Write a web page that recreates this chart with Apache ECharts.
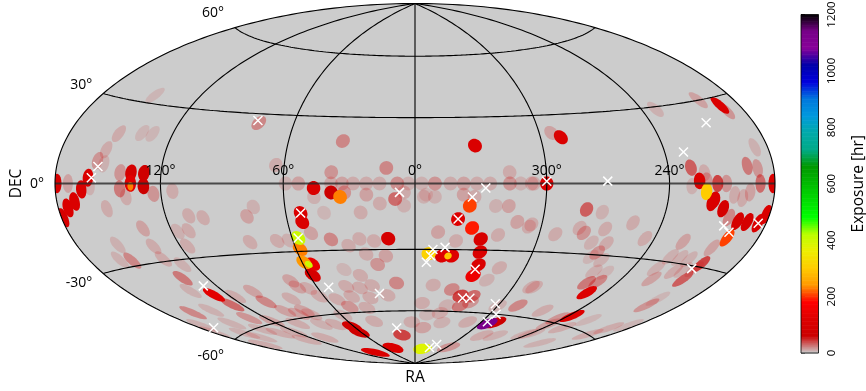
<!DOCTYPE html>
<html><head><meta charset="utf-8"><style>html,body{margin:0;background:#fff}#c{width:866px;height:391px}</style>
<script src="https://cdn.jsdelivr.net/npm/echarts@6/dist/echarts.min.js"></script></head><body><div id="c"></div>
<script>
// Sky pointings: [RA deg, DEC deg, exposure hr]
const pointings=[[147,33,8],[150,18,12],[137,19,8],[131,19,8],[153,12,12],[156,8,20],[152,7,10],[160,2,110],[179,0,100],[172,0,15],[164,-2,110],[159,-1,10],[169,-6,110],[142,4,20],[136,4,90],[129,4,70],[142,-2,30],[136,0,130],[129,-1,60],[124,-4,20],[139,-5,12],[64,8,12],[59,0,10],[53,0,15],[78,26,25],[174,-8,110],[179,-11,100],[151,-9,12],[135,-17,15],[114,-3,12],[108,-13,12],[101,-14,12],[117,-19,10],[111,-19,12],[116,-25,12],[75,-10,10],[79,-14,15],[82,-25,12],[68,-25,12],[62,-25,10],[155,-22,10],[135,-24,12],[135,-29,12],[161,-27,10],[154,-28,25],[127,-32,10],[135,-37,30],[140,-42,10],[129,-45,130],[127,-50,35],[162,-49,25],[147,-50,10],[117,-47,12],[102,-46,15],[102,-51,25],[132,-56,20],[152,-56,10],[175,-53,10],[179,-56,10],[161,-60,10],[141,-61,10],[98,-56,15],[73,-43,15],[83,-51,12],[72,-46,15],[173,-65,12],[135,-64,12],[122,-65,12],[91,-58,15],[120,-59,15],[104,-62,12],[158,-63,10],
[34,19,25],[332,17,110],[13,7,25],[38,5,20],[317,5,12],[294,22,15],[290,20,110],[38,0,12],[33,0,15],[28,0,12],[22,0,12],[16,0,12],[8,0,22],[3,0,10],[357,0,10],[351,0,20],[344,0,12],[338,0,15],[332,0,12],[326,0,12],[317,0,20],[312,0,10],[306,0,12],[300,0,110],[46,-2,110],[38,-4,60],[34,-6,230],[32,-4,20],[22,-5,15],[9,-7,35],[5,-4,12],[356,-6,10],[351,-6,10],[338,-5,15],[333,-6,12],[16,-9,12],[5,-10,10],[25,-13,12],[46,-6,10],[42,-13,8],[53,-13,110],[53,-17,110],[50,-22,15],[57,-24,400],[58,-29,230],[59,-35,240],[55,-36,140],[58,-41,90],[41,-25,25],[33,-28,12],[27,-25,12],[20,-26,12],[13,-25,90],[15,-33,15],[25,-32,12],[20,-37,20],[31,-42,12],[39,-39,8],[42,-47,12],[34,-48,12],[26,-47,12],[11,-46,25],[18,-52,12],[30,-53,12],[42,-52,12],[66,-47,12],[63,-51,12],[53,-53,12],[48,-57,20],[36,-58,12],[37,-65,12],[3,-66,12],[62,-67,80],[62,-70,70],[16,-73,50],[44,-80,110],[95,-81,110],[107,-70,12],[84,-57,15],[82,-59,12],[59,-61,10],[129,-69,12],[86,-64,10],[74,-65,12],
[355,-5,8],[335,-10,205],[340,-16,120],[349,-22,15],[333,-20,190],[323,-10,10],[317,-10,15],[312,-17,15],[306,-19,12],[320,-23,12],[328,-25,100],[327,-31,110],[326,-37,110],[327,-42,150],[346,-33,120],[341,-33,120],[353,-32,310],[340,-26,12],[349,-47,12],[337,-49,25],[330,-52,50],[322,-52,35],[327,-57,30],[321,-55,20],[314,-38,12],[318,-44,10],[355,-56,12],[350,-62,8],[340,-61,12],[335,-66,10],[352,-69,15],[337,-57,10],[300,-56,10],[286,-55,25],[289,-46,12],[287,-64,60],[293,-65,1130],[344,-81,380],[297,-79,20],[312,-65,12],[281,-71,12],[267,-70,10],[243,-67,10],
[280,-11,40],[272,-12,10],[255,-16,12],[281,-19,12],[278,-21,20],[268,-19,12],[292,-22,12],[272,-25,10],[264,-25,12],[245,-22,12],[266,-29,20],[268,-31,8],[261,-32,10],[223,-22,15],[204,-23,15],[199,-19,205],[204,-12,25],[198,-13,90],[192,-13,90],[185,-13,110],[182,-10,110],[216,-7,100],[209,-9,90],[224,-28,10],[218,-28,10],[212,-28,10],[226,-33,10],[214,-33,12],[209,-32,10],[202,-29,50],[203,-31,10],[203,-35,40],[222,-37,15],[201,-46,20],[201,-43,8],[258,-42,30],[252,-41,25],[251,-46,120],[260,-37,10],[253,-37,8],[287,-46,12],[264,-56,12],[237,-56,120],[244,-58,20],[220,-56,8],[226,-61,12],[242,-61,15],[239,-66,10],[209,-68,10],[195,-60,12],[193,-56,12],[185,-53,8],[305,-18,12],
[202,30,15],[192,27,110],[191,25,20],[232,29,10],[188,12,10],[228,6,40],[221,4,12],[196,6,30],[190,5,20],[224,1,110],[228,-1,10],[220,1,20],[214,0,50],[209,0,20],[220,-3,300],[215,-6,110],[204,-4,12],[199,-5,12],[195,-3,15],[189,0,35],[181,0,110],[307,0,12]];
// Small deep cores where several pointings overlap
const coreRA=[136,343,57];
const coreDec=[-1,-33,-36];
const coreExposure=[230,290,400];
// Sources marked with a white cross: RA, DEC
const crossRA=[79,155,158,128,171,7,334,328,300,53,23,19,340,351,352,354,345,327,328,323,303,295,295,331,323,200,205,205,209,230,271,185,53,57];
const crossDec=[27,6,2,-41,-55,-4,-6,-2,1,-47,-51,-69,-16,-30,-33,-36,-29,-39,-53,-53,-55,-60,-64,-80,-78,-17,-15,-31,22,12,1,-13,-13,-24];
const raTicks=[120,60,0,300,240];
const decTicks=[60,30,0,-30,-60];
const meridians=[-120,-60,0,60,120];
const parallels=[-60,-30,30,60];
const colorbarTicks=[0,200,400,600,800,1000,1200];
const footprintRadius=3.1, coreRadius=1.6;

const D=Math.PI/180;
function wrap(ra){return ra>180?ra-360:ra;}
function hammer(lon,lat){const l=lon*D,p=lat*D,d=Math.sqrt(1+Math.cos(p)*Math.cos(l/2));
  return [2*Math.SQRT2*Math.cos(p)*Math.sin(l/2)/d,Math.SQRT2*Math.sin(p)/d];}
// nipy_spectral colour map, reversed so that exposure 0 is grey
const R=[0,.4667,.5333,0,0,0,0,0,0,0,0,0,0,.7333,.9333,1,1,1,.8667,.8,.8],G=[0,0,0,0,0,.4667,.6,.6667,.6667,.6,.7333,.8667,1,1,.9333,.8,.6,0,0,0,.8],B=[0,.5333,.6,.6667,.8667,.8667,.8667,.6667,.5333,0,0,0,0,0,0,0,0,0,0,0,.8];
function rgb(v){const t=Math.min(20,Math.max(0,(1-v/1200)*20)),i=Math.min(19,Math.floor(t)),f=t-i,m=a=>Math.round(255*(a[i]+(a[i+1]-a[i])*f));return [m(R),m(G),m(B)];}
function fill(v){if(v<60)return 'rgba(204,0,0,'+(v/74)+')';const c=rgb(v);return 'rgb('+c.join(',')+')';}
function footprint(ra,dec,r){const c=wrap(ra),pts=[],sd=Math.sin(dec*D),cd=Math.cos(dec*D),sr=Math.sin(r*D),cr=Math.cos(r*D);
  for(let k=0;k<36;k++){const t=k*10*D,s=sd*cr+cd*sr*Math.cos(t),lat=Math.asin(s),dl=Math.atan2(Math.sin(t)*sr*cd,cr-sd*s)/D;
    pts.push(hammer(Math.max(-180,Math.min(180,c+dl)),lat/D));}
  return pts;}
const lats=[];for(let a=-90;a<=90;a+=1)lats.push(a);
const lons=[];for(let a=-180;a<=180;a+=2)lons.push(a);
const outline=lats.map(a=>hammer(180,a)).concat(lats.slice().reverse().map(a=>hammer(-180,a)));
const sorted=pointings.slice().sort((a,b)=>a[2]-b[2]);
const FONT='"Open Sans"';
function glLine(pts,color,w){return {type:'line',xAxisIndex:0,yAxisIndex:0,data:pts,showSymbol:false,symbol:'none',silent:true,z:5,lineStyle:{color:color,width:w}};}
function blobSeries(rows,radius,z){return {type:'custom',coordinateSystem:'cartesian2d',xAxisIndex:0,yAxisIndex:0,silent:true,z:z,clip:false,
   data:rows.map(r=>{const h=hammer(wrap(r[0]),r[1]);return [h[0],h[1],r[2],r[0],r[1]];}),encode:{x:0,y:1},
   renderItem:(p,api)=>({type:'polygon',shape:{points:footprint(api.value(3),api.value(4),radius).map(q=>api.coord(q))},style:{fill:fill(api.value(2)),stroke:null}})};}
const levels=[];for(let i=0;i<256;i++)levels.push(i*1200/256);
const option={animation:false,backgroundColor:'#fff',
 grid:[{left:55,width:720,top:3.5,height:360,outerBoundsMode:'none'},{left:801,width:17.5,top:14.5,height:338.5,outerBoundsMode:'none'}],
 xAxis:[{type:'value',gridIndex:0,min:-2*Math.SQRT2,max:2*Math.SQRT2,inverse:true,splitLine:{show:false},axisLine:{show:false},axisTick:{show:false},axisLabel:{show:false},name:'RA',nameLocation:'middle',nameGap:6,nameTextStyle:{fontFamily:FONT,fontSize:15.5,color:'#000'}},
  {type:'value',gridIndex:1,min:0,max:1,show:false}],
 yAxis:[{type:'value',gridIndex:0,min:-Math.SQRT2,max:Math.SQRT2,splitLine:{show:false},axisLine:{show:false},axisTick:{show:false},axisLabel:{show:false},name:'DEC',nameLocation:'middle',nameRotate:90,nameGap:30,nameTextStyle:{fontFamily:FONT,fontSize:15.5,color:'#000'}},
  {type:'value',gridIndex:1,min:0,max:1200,interval:200,position:'right',splitLine:{show:false},axisLine:{show:true,lineStyle:{color:'#000',width:.8}},axisTick:{show:true,length:4,lineStyle:{color:'#000',width:.8}},axisLabel:{rotate:90,fontFamily:FONT,fontSize:11.5,color:'#000',margin:7,formatter:v=>colorbarTicks.includes(v)?String(v):''},name:'Exposure [hr]',nameLocation:'middle',nameRotate:90,nameGap:32,nameTextStyle:{fontFamily:FONT,fontSize:15.5,color:'#000'}}],
 series:[
  {type:'custom',coordinateSystem:'cartesian2d',xAxisIndex:0,yAxisIndex:0,silent:true,z:1,clip:false,data:[[0,0]],
   renderItem:(p,api)=>({type:'polygon',shape:{points:outline.map(q=>api.coord(q))},style:{fill:'#cccccc',stroke:null}})},
  blobSeries(sorted,footprintRadius,2),
  blobSeries(coreRA.map((ra,i)=>[ra,coreDec[i],coreExposure[i]]),coreRadius,3),
  ...meridians.map(m=>glLine(lats.map(a=>hammer(m,a)),'#000',1.1)),
  ...parallels.map(d=>glLine(lons.map(a=>hammer(a,d)),'#000',1.1)),
  glLine(lons.map(a=>hammer(a,0)),'rgba(40,40,40,.8)',1.8),
  glLine(lats.map(a=>hammer(180,a)),'#000',1.1),
  glLine(lats.map(a=>hammer(-180,a)),'#000',1.1),
  {type:'scatter',xAxisIndex:0,yAxisIndex:0,silent:true,z:7,symbol:'path://M0,0L10,10M10,0L0,10',symbolSize:9,
   data:crossRA.map((ra,i)=>hammer(wrap(ra),crossDec[i])),itemStyle:{color:'none',borderColor:'#fff',borderWidth:1.5,opacity:1}},
  {type:'custom',coordinateSystem:'cartesian2d',xAxisIndex:0,yAxisIndex:0,silent:true,z:8,clip:false,
   data:raTicks.map(t=>{const h=hammer(wrap(t),0);return [h[0],h[1],t];}),encode:{x:0,y:1},
   renderItem:(p,api)=>{const c=api.coord([api.value(0),api.value(1)]);return {type:'text',style:{x:c[0],y:c[1]-12,text:api.value(2)+'°',textAlign:'center',textVerticalAlign:'middle',fill:'#000',fontFamily:FONT,fontSize:14}};}},
  {type:'custom',coordinateSystem:'cartesian2d',xAxisIndex:0,yAxisIndex:0,silent:true,z:8,clip:false,
   data:decTicks.map(t=>{const h=hammer(180,t);return [h[0],h[1],t];}),encode:{x:0,y:1},
   renderItem:(p,api)=>{const c=api.coord([api.value(0),api.value(1)]),d=api.value(2);return {type:'text',style:{x:c[0]-11,y:c[1]+1-18*Math.sin(d*D),text:d+'°',textAlign:'right',textVerticalAlign:'middle',fill:'#000',fontFamily:FONT,fontSize:14}};}},
  {type:'custom',coordinateSystem:'cartesian2d',xAxisIndex:1,yAxisIndex:1,silent:true,z:2,clip:false,
   data:levels.map(v=>[0,v]),encode:{x:0,y:1},
   renderItem:(p,api)=>{const v=api.value(1),a=api.coord([0,v]),b=api.coord([1,v+1200/256]);return {type:'rect',shape:{x:a[0],y:b[1],width:b[0]-a[0],height:a[1]-b[1]+.6},style:{fill:'rgb('+rgb(v).join(',')+')',stroke:null}};}},
  {type:'custom',coordinateSystem:'cartesian2d',xAxisIndex:1,yAxisIndex:1,silent:true,z:3,clip:false,data:[[0,0]],
   renderItem:(p,api)=>{const a=api.coord([0,0]),b=api.coord([1,1200]);return {type:'rect',shape:{x:a[0],y:b[1],width:b[0]-a[0],height:a[1]-b[1]},style:{fill:'none',stroke:'#000',lineWidth:.8}};}}
 ]};
echarts.init(document.getElementById('c'),null,{renderer:'canvas'}).setOption(option);
</script></body></html>
